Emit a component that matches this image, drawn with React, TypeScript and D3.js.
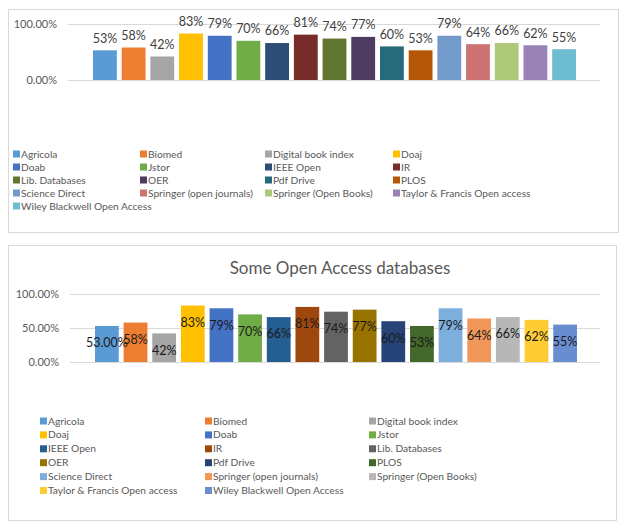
import React from "react";
import * as d3 from "d3";

const categories = [
  "Agricola", "Biomed", "Digital book index", "Doaj", "Doab", "Jstor",
  "IEEE Open", "IR", "Lib. Databases", "OER", "Pdf Drive", "PLOS",
  "Science Direct", "Springer (open journals)", "Springer (Open Books)",
  "Taylor & Francis Open access", "Wiley Blackwell Open Access",
];
const values = [53, 58, 42, 83, 79, 70, 66, 81, 74, 77, 60, 53, 79, 64, 66, 62, 55];
const bottomLabels = ["53.00%", "58%", "42%", "83%", "79%", "70%", "66%", "81%", "74%", "77%", "60%", "53%", "79%", "64%", "66%", "62%", "55%"];
const topTicks = [0, 100];
const bottomTicks = [0, 50, 100];
const topColors = [
  "#5B9BD5", "#ED7D31", "#A5A5A5", "#FFC000", "#4472C4", "#70AD47",
  "#2C4D75", "#772C2A", "#5F7530", "#4D3B62", "#276A7C", "#B65708",
  "#729ACA", "#CD7371", "#AFC97A", "#9983B5", "#6FBDD1",
];
const bottomColors = [
  "#5B9BD5", "#ED7D31", "#A5A5A5", "#FFC000", "#4472C4", "#70AD47",
  "#255E91", "#9E480E", "#636363", "#997300", "#264478", "#43682B",
  "#7CAFDD", "#F1975A", "#B7B7B7", "#FFCD33", "#698ED0",
];
const title = "Some Open Access databases";

const FONT = "Lato, 'Open Sans', sans-serif";
const GRAY = "#595959";
const GRID = "#D9D9D9";

function Panel({ x, y, w, h }: { x: number; y: number; w: number; h: number }) {
  return <rect x={x + 0.5} y={y + 0.5} width={w} height={h} fill="#fff" stroke={GRID} strokeWidth={1} />;
}

export default function App() {
  const fmt = (t: number) => d3.format(".2f")(t) + "%";

  // Top chart
  const tx = d3.scaleBand<string>().domain(categories).range([93, 576]).paddingInner(0.17).paddingOuter(0);
  const ty = d3.scaleLinear().domain([0, 100]).range([80, 24]);
  // Bottom chart
  const bx = d3.scaleBand<string>().domain(categories).range([95, 577]).paddingInner(0.17).paddingOuter(0);
  const by = d3.scaleLinear().domain([0, 100]).range([362, 294]);

  const topLegendCols = [13, 140, 265, 393];
  const topLegendRow0 = 154;
  const topLegendStep = 13;
  const botLegendCols = [40, 205, 369];
  const botLegendRow0 = 421;
  const botLegendStep = 13.9;
  const LEG = 10.2;

  return (
    <svg width={625} height={529} style={{ position: "absolute", left: 0, top: 0, background: "#fff" }} fontFamily={FONT}>
      <rect x={0} y={0} width={625} height={529} fill="#fff" />
      <Panel x={8} y={9} w={610} h={223} />
      <Panel x={8} y={245} w={608} h={275} />

      {/* Top chart */}
      {topTicks.map((t) => (
        <g key={"tt" + t}>
          <line x1={68} x2={600} y1={Math.round(ty(t)) + 0.5} y2={Math.round(ty(t)) + 0.5} stroke={GRID} />
          <text x={57} y={ty(t)} dy="0.35em" textAnchor="end" fontSize={11} fill={GRAY}>{fmt(t)}</text>
        </g>
      ))}
      {categories.map((c, i) => (
        <g key={"tb" + c}>
          <rect x={tx(c)} y={ty(values[i])} width={tx.bandwidth()} height={ty(0) - ty(values[i])} fill={topColors[i]} />
          <text x={(tx(c) as number) + tx.bandwidth() / 2} y={ty(values[i]) - 12} dy="0.35em" textAnchor="middle" fontSize={12.5} fill="#404040">{values[i] + "%"}</text>
        </g>
      ))}
      {categories.map((c, i) => {
        const col = i % 4;
        const row = Math.floor(i / 4);
        const cy = topLegendRow0 + row * topLegendStep;
        return (
          <g key={"tl" + c}>
            <rect x={topLegendCols[col]} y={cy - 3.5} width={7} height={7} fill={topColors[i]} />
            <text x={topLegendCols[col] + 8} y={cy} dy="0.35em" fontSize={LEG} fill={GRAY}>{c}</text>
          </g>
        );
      })}

      {/* Bottom chart */}
      <text x={340} y={268} dy="0.35em" textAnchor="middle" fontSize={17} fill={GRAY}>{title}</text>
      {bottomTicks.map((t) => (
        <g key={"bt" + t}>
          <line x1={70} x2={600} y1={Math.round(by(t)) + 0.5} y2={Math.round(by(t)) + 0.5} stroke={GRID} />
          <text x={59} y={by(t)} dy="0.35em" textAnchor="end" fontSize={11} fill={GRAY}>{fmt(t)}</text>
        </g>
      ))}
      {categories.map((c, i) => (
        <rect key={"bb" + c} x={bx(c)} y={by(values[i])} width={bx.bandwidth()} height={by(0) - by(values[i])} fill={bottomColors[i]} />
      ))}
      {categories.map((c, i) => (
        <text key={"bl" + c} x={(bx(c) as number) + bx.bandwidth() / 2} y={by(values[i]) + 17} dy="0.35em" textAnchor="middle" fontSize={12.5} fill="#1a1a1a">{bottomLabels[i]}</text>
      ))}
      {categories.map((c, i) => {
        const col = i % 3;
        const row = Math.floor(i / 3);
        const cy = botLegendRow0 + row * botLegendStep;
        return (
          <g key={"bl2" + c}>
            <rect x={botLegendCols[col]} y={cy - 3.5} width={7} height={7} fill={bottomColors[i]} />
            <text x={botLegendCols[col] + 8} y={cy} dy="0.35em" fontSize={LEG} fill={GRAY}>{c}</text>
          </g>
        );
      })}
    </svg>
  );
}
